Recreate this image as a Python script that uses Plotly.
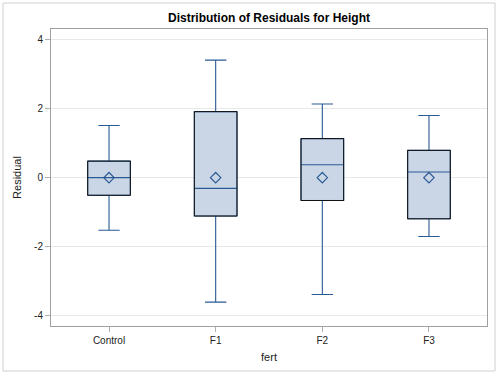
import plotly.graph_objects as go

categories = ["Control", "F1", "F2", "F3"]
upper_whisker = [1.51, 3.40, 2.13, 1.80]
q3 = [0.48, 1.91, 1.13, 0.79]
median = [0.0, -0.31, 0.375, 0.165]
q1 = [-0.51, -1.11, -0.66, -1.19]
lower_whisker = [-1.52, -3.60, -3.38, -1.70]
mean = [0.0, 0.0, 0.0, 0.0]
y_ticks = [-4, -2, 0, 2, 4]
y_ticktext = ["-4", "-2", "0", "2", "4"]

W, H = 500, 376
L, R, T, B = 51, 13, 29, 50
pw, ph = W - L - R, H - T - B
box_w = 0.4

blue = "#2A5A94"
fig = go.Figure()
fig.add_trace(go.Box(
    x=categories, q1=q1, median=median, q3=q3,
    lowerfence=lower_whisker, upperfence=upper_whisker,
    width=box_w, whiskerwidth=0.5,
    fillcolor="#CAD6E6", line=dict(color=blue, width=1.1),
    hoverinfo="skip", showlegend=False,
))
fig.add_trace(go.Scatter(
    x=categories, y=mean, mode="markers",
    marker=dict(symbol="diamond-open", size=8, color=blue, line=dict(width=1.2, color=blue)),
    hoverinfo="skip", showlegend=False,
))

shapes = [dict(type="rect", xref="x", yref="y",
               x0=i - box_w / 2, x1=i + box_w / 2, y0=q1[i], y1=q3[i],
               line=dict(color="#111111", width=1), layer="above")
          for i in range(len(categories))]
shapes.append(dict(type="rect", xref="paper", yref="paper",
                   x0=(3 - L) / pw, x1=(495 - L) / pw,
                   y0=(H - B - 371) / ph, y1=(H - B - 3) / ph,
                   line=dict(color="#D0D0D0", width=1), layer="below"))

font = "Arial, Liberation Sans, sans-serif"
fig.update_layout(
    width=W, height=H,
    margin=dict(l=L, r=R, t=T, b=B, autoexpand=False),
    paper_bgcolor="white", plot_bgcolor="white",
    boxmode="overlay",
    font=dict(family=font, size=10, color="#222222"),
    title=dict(text="<b>Distribution of Residuals for Height</b>",
               x=(L + pw / 2) / W, xanchor="center", y=1 - 18 / H, yanchor="middle",
               font=dict(family=font, size=12, color="#000000")),
    xaxis=dict(range=[-0.544, 3.544], showgrid=False, ticks="outside", ticklen=5,
               tickcolor="#B0B0B0", showline=True, linecolor="#A0A0A0", mirror=True,
               automargin=False,
               title=dict(text="fert", font=dict(size=11), standoff=8),
               tickfont=dict(size=10)),
    yaxis=dict(range=[-4.29, 4.30], tickvals=y_ticks, ticktext=y_ticktext,
               ticks="outside", ticklen=5,
               tickcolor="#B0B0B0", showline=True, linecolor="#A0A0A0", mirror=True,
               showgrid=True, gridcolor="#E8E8E8", zeroline=False, automargin=False,
               title=dict(text="Residual", font=dict(size=11), standoff=10),
               tickfont=dict(size=10)),
    shapes=shapes,
)
fig.write_html("out.html", config={"displayModeBar": False},
               post_script="document.body.style.margin='0';document.body.style.overflow='hidden';")
